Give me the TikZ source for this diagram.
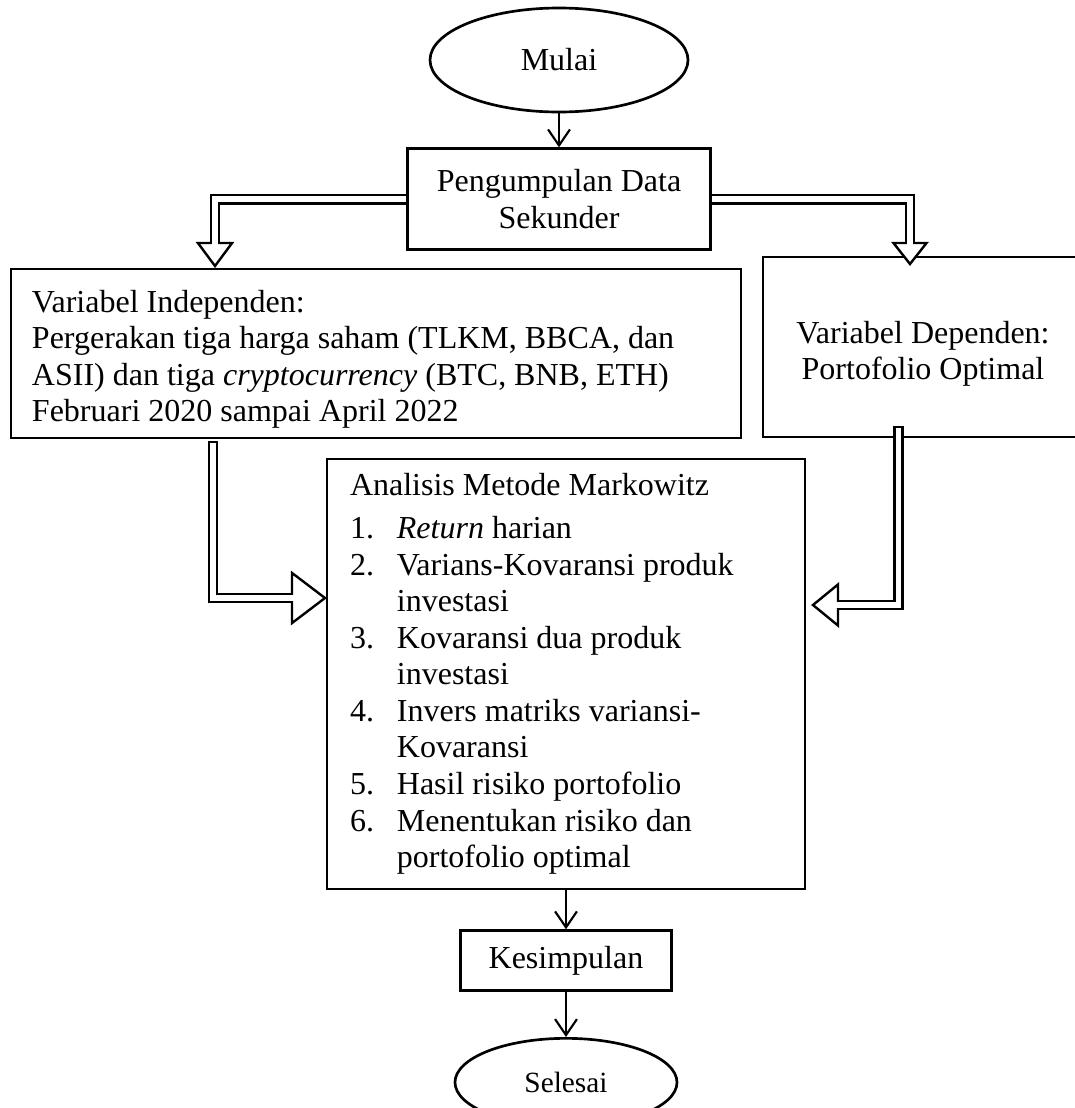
\documentclass[tikz,border=0pt]{standalone}
\usepackage{fontspec}
\setmainfont{Liberation Serif}
\usetikzlibrary{arrows.meta, positioning, shapes.geometric, calc}

%% open block head for the double-line arrows: base, tip, half width
\newcommand{\blockhead}[3]{%
    \draw[fill=white, line width=0.9pt, line join=miter]
        ($(#1)!#3!90:(#2)$) -- (#2) -- ($(#1)!#3!-90:(#2)$) -- cycle;
    \draw[white, line width=2.2pt] ($(#1)!-1.3pt!(#2)$) -- ($(#1)!1.3pt!(#2)$);
}

\begin{document}
\begin{tikzpicture}[
    x=0.375pt, y=-0.375pt,
    font=\fontsize{12}{13.7}\selectfont,
    line width=1pt,
    %% shape styles
    terminal/.style={
        draw, ellipse, inner sep=0pt,
        minimum width=96.75pt, minimum height=39pt
    },
    stepbox/.style={
        draw, rectangle, inner sep=0pt, align=flush center
    },
    listbox/.style={
        draw, rectangle, inner xsep=8.6pt, inner ysep=0pt, align=flush left
    },
    %% arrow styles
    flow/.style={-{Straight Barb[length=6pt, width=8.2pt]}, line width=0.8pt},
    pipe/.style={double, double distance=2.2pt, line width=0.9pt, line join=miter}
]
    \useasboundingbox (0,0) rectangle (1074,1108);

    %% --- nodes ------------------------------------------------
    \node[terminal] (mulai) at (559,60) {Mulai};

    \node[stepbox, minimum width=113.6pt, minimum height=37.9pt]
        (kumpul) [below=12.75pt of mulai] {Pengumpulan Data\\Sekunder};

    \node[listbox, inner xsep=7.9pt, text width=258pt, minimum height=63.4pt]
        (indep) at (376,353.5) {%
        \rule{0pt}{12.7pt}Variabel Independen:\\
        Pergerakan tiga harga saham (TLKM, BBCA, dan\\
        ASII) dan tiga \textit{cryptocurrency} (BTC, BNB, ETH)\\
        Februari 2020 sampai April 2022
    };

    \node[stepbox, minimum width=120pt, minimum height=67.5pt]
        (dep) at (923,347) {\rule{0pt}{13.4pt}Variabel Dependen:\\Portofolio Optimal};

    \node[listbox, text width=162pt, minimum height=161.25pt]
        (markow) at (566,674) {%
        Analisis Metode Markowitz\\[2.4pt]
        \makebox[17.6pt][l]{1.}\textit{Return} harian\\
        \makebox[17.6pt][l]{2.}Varians-Kovaransi produk\\
        \hspace*{17.6pt}investasi\\
        \makebox[17.6pt][l]{3.}Kovaransi dua produk\\
        \hspace*{17.6pt}investasi\\
        \makebox[17.6pt][l]{4.}Invers matriks variansi-\\
        \hspace*{17.6pt}Kovaransi\\
        \makebox[17.6pt][l]{5.}Hasil risiko portofolio\\
        \makebox[17.6pt][l]{6.}Menentukan risiko dan\\
        \hspace*{17.6pt}portofolio optimal
    };

    \node[stepbox, minimum width=79.1pt, minimum height=22.5pt]
        (simpul) [below=14.6pt of markow] {Kesimpulan};

    \node[terminal, minimum width=83.25pt, minimum height=33pt,
          font=\fontsize{11}{13}\selectfont]
        (selesai) [below=16.9pt of simpul] {Selesai};

    %% --- plain arrows -----------------------------------------
    \draw[flow] (mulai) -- (kumpul);
    \draw[flow] (markow) -- (simpul);
    \draw[flow] (simpul) -- (selesai);

    %% --- double arrows ----------------------------------------
    \coordinate (lbase) at (215,243);
    \coordinate (ltip)  at (215,266);
    \draw[pipe] (kumpul.west) -| (lbase);
    \blockhead{lbase}{ltip}{6.4pt}

    \coordinate (rbase) at (910,243);
    \coordinate (rtip)  at (910,264);
    \draw[pipe] (kumpul.east) -| (rbase);
    \blockhead{rbase}{rtip}{6.2pt}

    \coordinate (istart) at (213,446);
    \coordinate (ibase)  at (292,598);
    \coordinate (itip)   at (325,598);
    \draw[pipe, line cap=rect] (istart) |- (ibase);
    \blockhead{ibase}{itip}{9.4pt}

    \coordinate (dstart) at (898.5,431);
    \coordinate (dbase)  at (838,605);
    \coordinate (dtip)   at (813,605);
    \draw[pipe, line cap=rect] (dstart) |- (dbase);
    \blockhead{dbase}{dtip}{7.7pt}

\end{tikzpicture}
\end{document}
